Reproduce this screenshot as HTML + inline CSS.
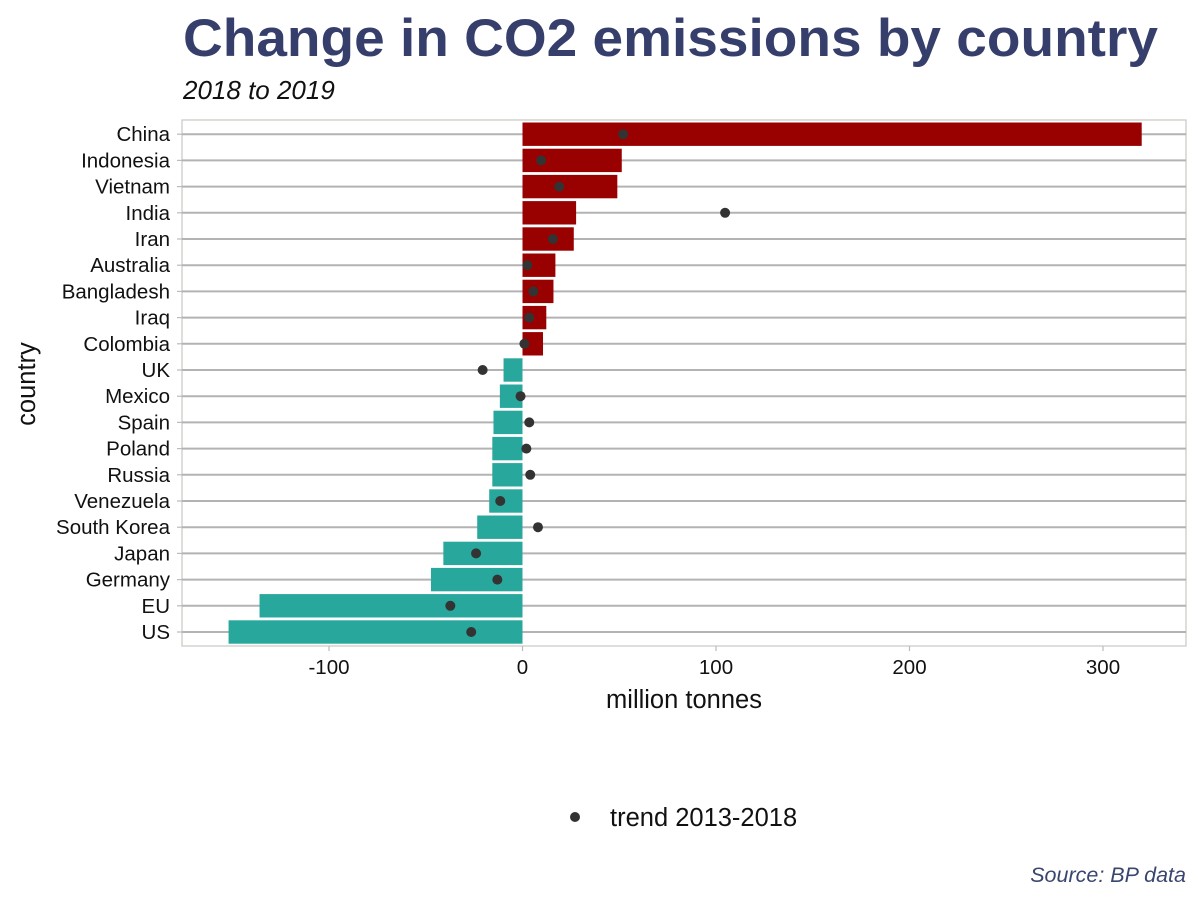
<!DOCTYPE html>
<html><head><meta charset="utf-8"><style>
body{margin:0;background:#fff;font-family:"Liberation Sans",Arial,sans-serif}
</style></head><body>
<svg id="chart" width="1200" height="900" xmlns="http://www.w3.org/2000/svg" font-family="Liberation Sans, Arial, sans-serif">
<text x="183" y="56" font-size="53" font-weight="bold" fill="#363f6b" textLength="975" lengthAdjust="spacingAndGlyphs">Change in CO2 emissions by country</text>
<text x="183" y="99" font-size="26" font-style="italic" fill="#111">2018 to 2019</text>
<g id="plot"></g>
<text x="684" y="708" font-size="25.5" text-anchor="middle" fill="#111">million tonnes</text>
<text transform="translate(35,384) rotate(-90)" font-size="25.5" text-anchor="middle" fill="#111">country</text>
<g>
<circle cx="575" cy="817" r="5" fill="#333"/>
<text x="610" y="826" font-size="25.5" fill="#111">trend 2013-2018</text>
</g>
<text x="1186" y="882" font-size="21.5" font-style="italic" text-anchor="end" fill="#3a4670">Source: BP data</text>
</svg>
<script>
const countries=["China","Indonesia","Vietnam","India","Iran","Australia","Bangladesh","Iraq","Colombia","UK","Mexico","Spain","Poland","Russia","Venezuela","South Korea","Japan","Germany","EU","US"];
const change2019=[320,51.3,49,27.7,26.5,17,16,12.3,10.6,-9.8,-11.7,-15,-15.6,-15.6,-17.2,-23.4,-40.9,-47.3,-135.9,-151.9];
const trend=[52,9.6,19,104.7,15.7,2.5,5.6,3.5,1,-20.6,-1,3.5,2,4,-11.5,8,-24,-13,-37.3,-26.5];
const xTicks=[-100,0,100,200,300];

const NS="http://www.w3.org/2000/svg";
const g=document.getElementById('plot');
const L=182,R=1186,T=120,B=646;
const x=v=>522.5+v*1.935;
const y=i=>134.2+i*26.2;
function mk(t,a){const e=document.createElementNS(NS,t);for(const k in a)e.setAttribute(k,a[k]);g.appendChild(e);return e;}
const frame=mk('rect',{x:L,y:T,width:R-L,height:B-T,fill:'none',stroke:'#c8c8c0','stroke-width':1.2});


xTicks.forEach(t=>{
  const tk=mk('line',{x1:x(t),x2:x(t),y1:B,y2:B+5,stroke:'#bbb','stroke-width':1.2});
  
  
  const tl=mk('text',{x:x(t),y:B+28,'font-size':20.5,'text-anchor':'middle',fill:'#111'});
  tl.textContent=t;
  
  
});
countries.forEach((c,i)=>{
  const gl=mk('line',{x1:L,x2:R,y1:y(i),y2:y(i),stroke:'#b3b3b3','stroke-width':2});
  
  
  const tk=mk('line',{x1:L-5,x2:L,y1:y(i),y2:y(i),stroke:'#bbb','stroke-width':1.2});
  
  
  const lb=mk('text',{x:L-12,y:y(i)+7,'font-size':20.5,'text-anchor':'end',fill:'#111'});
  lb.textContent=c;
  
  
});
countries.forEach((c,i)=>{
  const v=change2019[i];
  const x0=Math.min(x(0),x(v)),w=Math.abs(x(v)-x(0));
  const b=mk('rect',{x:x0,y:y(i)-11.7,width:w,height:23.4,fill:v>=0?'#990000':'#28a79c'});
  
  
});
countries.forEach((c,i)=>{
  const d=mk('circle',{cx:x(trend[i]),cy:y(i),r:5,fill:'#333'});
  
  
});
</script>
</body></html>
